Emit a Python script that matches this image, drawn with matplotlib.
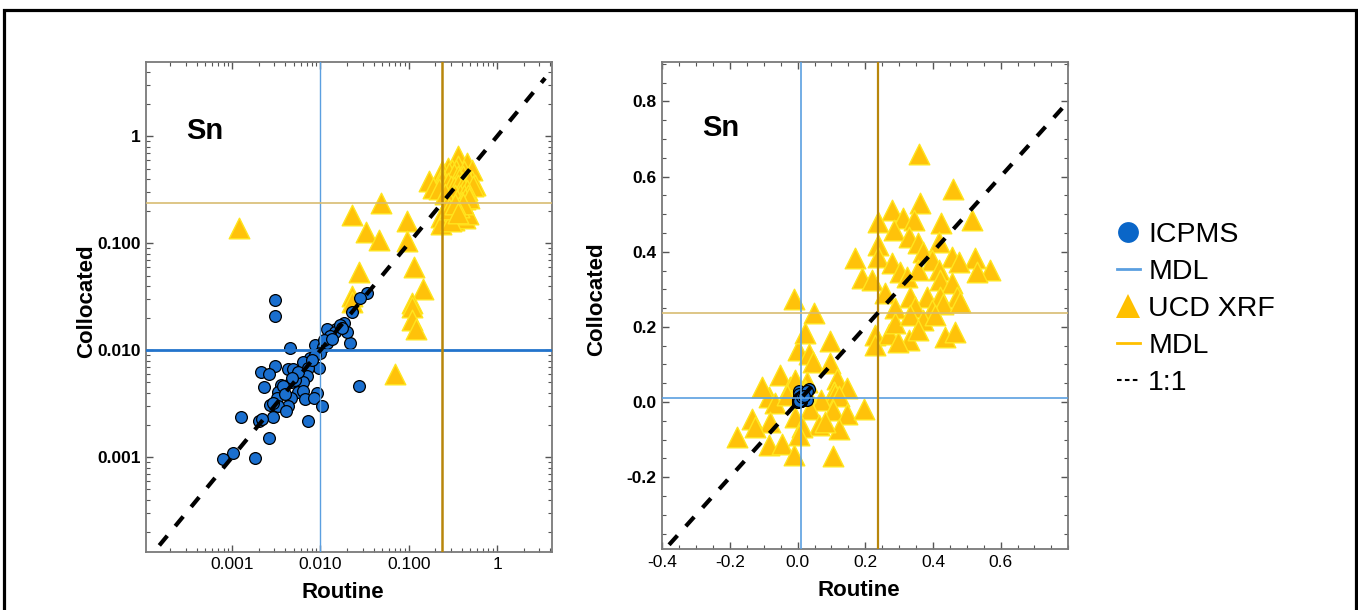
import matplotlib
matplotlib.use("Agg")
import matplotlib.pyplot as plt
import numpy as np
from matplotlib.lines import Line2D
from matplotlib.patches import Rectangle
from matplotlib.ticker import LogLocator, NullFormatter, MultipleLocator, FormatStrFormatter

plt.rcParams['font.family'] = ['Liberation Sans', 'DejaVu Sans']

# ---------------- data ----------------
icpms_routine = [0.0031, 0.0031, 0.023, 0.0185, 0.0152, 0.0118, 0.0146, 0.0216, 0.0198, 0.0087,
                 0.0106, 0.0045, 0.0118, 0.0099, 0.0076, 0.0064, 0.0031, 0.0021, 0.0026, 0.0043,
                 0.0049, 0.0097, 0.0073, 0.0059, 0.0070, 0.0064, 0.0047, 0.0036, 0.0023, 0.0275,
                 0.0056, 0.0064, 0.0091, 0.0033, 0.0047, 0.0067, 0.0084, 0.0032, 0.0027, 0.0103,
                 0.0043, 0.0033, 0.0041, 0.0029, 0.00126, 0.0020, 0.0022, 0.0073, 0.0026, 0.00103,
                 0.00078, 0.0018, 0.0038, 0.0029, 0.0051, 0.034, 0.028, 0.0166, 0.0128, 0.011,
                 0.0087, 0.008, 0.0056, 0.0048, 0.004, 0.0135, 0.0175]
icpms_coloc = [0.0295, 0.021, 0.023, 0.0181, 0.0157, 0.0157, 0.0149, 0.0118, 0.0149, 0.0112,
               0.0108, 0.0106, 0.0116, 0.0094, 0.0084, 0.0077, 0.0072, 0.0063, 0.0060, 0.0067,
               0.0067, 0.0069, 0.0068, 0.0059, 0.0057, 0.0051, 0.0051, 0.0047, 0.0045, 0.0046,
               0.0041, 0.0042, 0.0040, 0.0041, 0.0036, 0.0035, 0.0036, 0.0036, 0.0031, 0.0030,
               0.0030, 0.0030, 0.0027, 0.0024, 0.0024, 0.0022, 0.0023, 0.0022, 0.0015, 0.0011,
               0.00097, 0.00098, 0.0046, 0.0032, 0.0053, 0.0345, 0.0306, 0.0172, 0.0136, 0.0125,
               0.0090, 0.0081, 0.0063, 0.0055, 0.0039, 0.0128, 0.0160]

xrf_routine = [
    # low-concentration group
    0.0012, 0.0226, 0.049, 0.033, 0.046, 0.095, 0.095, 0.027, 0.115, 0.146,
    0.0226, 0.108, 0.108, 0.11, 0.121, 0.07, 0.0226,
    -0.012, -0.051, -0.022, -0.086, -0.066, -0.135, -0.081, 0.037, -0.007, 0.106,
    0.146, 0.195, 0.062, 0.121, 0.013, -0.179, -0.086, -0.046, -0.012, 0.106,
    -0.125, 0.003, 0.082, -0.105, -0.007, -0.03,
    # high-concentration group
    0.36, 0.458, 0.279, 0.362, 0.31, 0.343, 0.237, 0.515, 0.425, 0.284,
    0.328, 0.357, 0.237, 0.417, 0.372, 0.456, 0.17, 0.525, 0.239, 0.279,
    0.397, 0.476, 0.569, 0.53, 0.19, 0.22, 0.303, 0.323, 0.357, 0.417,
    0.422, 0.456, 0.259, 0.333, 0.382, 0.422, 0.471, 0.289, 0.348, 0.397,
    0.431, 0.481, 0.23, 0.269, 0.328, 0.436, 0.466, 0.23, 0.298, 0.372,
    0.289, 0.407, 0.333, 0.357]
xrf_coloc = [
    0.138, 0.184, 0.237, 0.128, 0.107, 0.163, 0.104, 0.054, 0.06, 0.037,
    0.032, 0.0275, 0.0255, 0.019, 0.0157, 0.006, 0.028,
    0.273, 0.071, 0.04, 0.013, -0.002, -0.044, -0.053, -0.018, -0.04, -0.022,
    -0.031, -0.018, -0.062, -0.071, -0.067, -0.093, -0.115, -0.111, -0.142, -0.145,
    -0.067, -0.089, -0.053, 0.04, 0.058, 0.02,
    0.661, 0.567, 0.511, 0.529, 0.489, 0.485, 0.478, 0.485, 0.476, 0.458,
    0.44, 0.422, 0.418, 0.427, 0.4, 0.387, 0.382, 0.382, 0.387, 0.369,
    0.378, 0.373, 0.351, 0.347, 0.329, 0.325, 0.347, 0.333, 0.351, 0.351,
    0.325, 0.316, 0.289, 0.28, 0.28, 0.28, 0.28, 0.249, 0.253, 0.245,
    0.262, 0.267, 0.178, 0.182, 0.165, 0.173, 0.187, 0.151, 0.16, 0.218,
    0.209, 0.231, 0.231, 0.191]

mdl_icpms = 0.01
mdl_xrf = 0.237
element = "Sn"
log_ticks = [0.001, 0.01, 0.1, 1]
log_ticklabels = ["0.001", "0.010", "0.100", "1"]

# ---------------- styles ----------------
BLUE = '#1a6fcf'
GOLD_FACE = '#ffc20a'
GOLD_EDGE = '#ffe51f'
BLUE_LINE = '#5b9fe0'
BLUE_LINE_DARK = '#2374cc'
GOLD_V = '#b8860b'
GOLD_H = '#d8bc72'
SPINE = '#7a7a7a'

fig = plt.figure(figsize=(13.58, 6.10), dpi=100)

# outer frame
fig.patches.append(Rectangle((4 / 1358, -0.05), (1352 / 1358), 1.05 - 9.5 / 610,
                             transform=fig.transFigure, fill=False, ec='black', lw=2.3))

axL = fig.add_axes([146 / 1358, 1 - 551.7 / 610, 406 / 1358, (551.7 - 62.3) / 610])
axR = fig.add_axes([662.3 / 1358, 1 - 549.3 / 610, 406 / 1358, (549.3 - 62.0) / 610])

ir = np.array(icpms_routine); ic = np.array(icpms_coloc)
xr = np.array(xrf_routine); xc = np.array(xrf_coloc)

def style_axes(ax):
    for s in ax.spines.values():
        s.set_color(SPINE)
        s.set_linewidth(1.3)
    ax.tick_params(which='both', direction='in', top=True, right=True, color='#555555')
    ax.tick_params(which='major', length=5, width=1)
    ax.tick_params(which='minor', length=3, width=0.8)
    ax.tick_params(axis='both', labelsize=12.5, pad=4)
    for lab in ax.get_yticklabels():
        lab.set_fontweight('bold')

# ---------- left: log-log ----------
pos = (xr > 0) & (xc > 0)
axL.set_xscale('log'); axL.set_yscale('log')
axL.scatter(xr[pos], xc[pos], marker='^', s=220, c=GOLD_FACE, edgecolors=GOLD_EDGE,
            linewidths=1.0, zorder=2)
axL.scatter(ir, ic, marker='o', s=72, c=BLUE, edgecolors='black', linewidths=0.9, zorder=3)
axL.axvline(mdl_icpms, color=BLUE_LINE, lw=1.0, zorder=4)
axL.axhline(mdl_icpms, color=BLUE_LINE_DARK, lw=2.0, zorder=4)
axL.axvline(mdl_xrf, color=GOLD_V, lw=1.8, zorder=4)
axL.axhline(mdl_xrf, color=GOLD_H, lw=1.2, zorder=4)
one = np.array([1.5e-4, 3.5])
axL.plot(one, one, color='black', lw=3, ls=(0, (3, 3)), dash_capstyle='butt', zorder=5)
axL.set_xlim(1.06e-4, 4.19)
axL.set_ylim(1.31e-4, 4.92)
axL.set_xticks(log_ticks); axL.set_xticklabels(log_ticklabels)
axL.set_yticks(log_ticks); axL.set_yticklabels(log_ticklabels)
for a in (axL.xaxis, axL.yaxis):
    a.set_minor_locator(LogLocator(base=10, subs=np.arange(2, 10)))
    a.set_minor_formatter(NullFormatter())
style_axes(axL)
axL.text(0.145, 0.86, element, transform=axL.transAxes, fontsize=21, fontweight='bold',
         ha='center', va='center')

# ---------- right: linear ----------
axR.scatter(xr, xc, marker='^', s=220, c=GOLD_FACE, edgecolors=GOLD_EDGE,
            linewidths=1.0, zorder=2)
axR.scatter(ir, ic, marker='o', s=72, c=BLUE, edgecolors='black', linewidths=0.9, zorder=3)
axR.axvline(mdl_icpms, color=BLUE_LINE, lw=1.2, zorder=4)
axR.axhline(mdl_icpms, color=BLUE_LINE, lw=1.2, zorder=4)
axR.axvline(mdl_xrf, color=GOLD_V, lw=1.6, zorder=4)
axR.axhline(mdl_xrf, color=GOLD_H, lw=1.2, zorder=4)
one = np.array([-0.38, 0.8])
axR.plot(one, one, color='black', lw=3, ls=(0, (3, 3)), dash_capstyle='butt', zorder=5)
axR.set_xlim(-0.4, 0.8)
axR.set_ylim(-0.392, 0.905)
axR.set_xticks([-0.4, -0.2, 0.0, 0.2, 0.4, 0.6])
axR.set_yticks([-0.2, 0.0, 0.2, 0.4, 0.6, 0.8])
axR.xaxis.set_major_formatter(FormatStrFormatter('%.1f'))
axR.yaxis.set_major_formatter(FormatStrFormatter('%.1f'))
axR.xaxis.set_minor_locator(MultipleLocator(0.05))
axR.yaxis.set_minor_locator(MultipleLocator(0.05))
style_axes(axR)
axR.text(0.143, 0.864, element, transform=axR.transAxes, fontsize=21, fontweight='bold',
         ha='center', va='center')

for ax, xl, yl, yc in ((axL, -0.061, -0.12, 0.512), (axR, -0.064, -0.135, 0.513)):
    ax.set_xlabel('Routine', fontsize=16, fontweight='bold')
    ax.set_ylabel('Collocated', fontsize=16, fontweight='bold')
    ax.xaxis.set_label_coords(0.485, xl)
    ax.yaxis.set_label_coords(yl, yc)

# ---------- legend ----------
handles = [
    Line2D([], [], marker='o', ls='none', color='#0a66c8', markersize=15, markeredgewidth=0),
    Line2D([], [], color=BLUE_LINE, lw=2),
    Line2D([], [], marker='^', ls='none', color='#ffc000', markersize=17, markeredgewidth=0),
    Line2D([], [], color='#ffc000', lw=2),
    Line2D([], [], color='black', lw=1.5, ls=(0, (2.2, 1.6))),
]
labels = ['ICPMS', 'MDL', 'UCD XRF', 'MDL', '1:1']
fig.legend(handles, labels, loc='upper left', bbox_to_anchor=(1117 / 1358, 1 - 222 / 610),
           frameon=False, fontsize=20.5, handlelength=0.8, handletextpad=0.3,
           labelspacing=0.39, borderpad=0, borderaxespad=0)

fig.savefig('out.png', dpi=100)
